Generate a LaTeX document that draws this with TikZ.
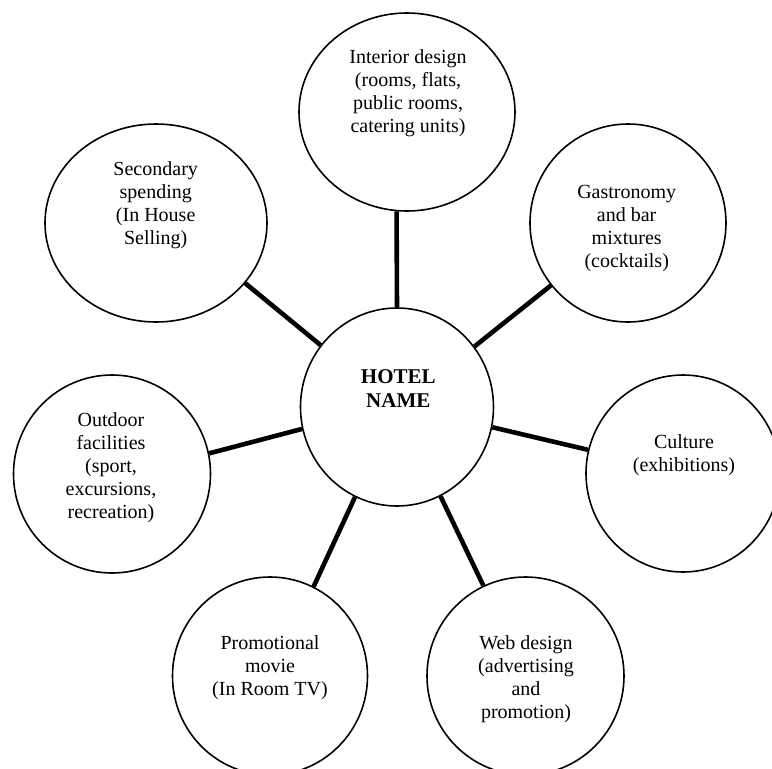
\documentclass[tikz,border=0pt]{standalone}
\usepackage{fontspec}
\setmainfont{Liberation Serif}
\usetikzlibrary{shapes.geometric}
\begin{document}
\begin{tikzpicture}[x=1pt,y=-1pt,
  bubble/.style={ellipse, draw, line width=1.6pt, inner sep=0pt},
  lbl/.style={align=center, inner sep=0pt, font=\fontsize{20}{23}\selectfont},
  boldlbl/.style={align=center, inner sep=0pt, font=\fontsize{21}{24.3}\selectfont\bfseries},
  link/.style={line width=4.6pt}]
\clip (0,0) rectangle (772,769);
% bubbles
\node[bubble, minimum width=216pt, minimum height=198pt] (int) at (407,112) {};
\node[bubble, minimum width=222pt, minimum height=198pt] (sec) at (156,223) {};
\node[bubble, minimum width=196pt, minimum height=198pt] (gas) at (628,223) {};
\node[bubble, minimum width=193pt, minimum height=198pt] (hotel) at (397,407) {};
\node[bubble, minimum width=194pt, minimum height=197pt] (cul) at (683,473.5) {};
\node[bubble, minimum width=197pt, minimum height=198pt] (out) at (112,474) {};
\node[bubble, minimum width=195pt, minimum height=198pt] (pro) at (270,676) {};
\node[bubble, minimum width=197pt, minimum height=198pt] (web) at (525.5,676) {};
% labels
\node[lbl] (tint) at (408,93.5) {\strut Interior design\\(rooms, flats,\\public rooms,\\catering units)\strut};
\node[lbl] (tsec) at (155.7,205.5) {\strut Secondary\\spending\\(In House\\Selling)\strut};
\node[lbl] (tgas) at (626.7,228.3) {\strut Gastronomy\\and bar\\mixtures\\(cocktails)\strut};
\node[boldlbl] (thotel) at (398.3,390.8) {\strut HOTEL\\NAME\strut};
\node[lbl] (tcul) at (684,455.5) {\strut Culture\\(exhibitions)\strut};
\node[lbl] (tout) at (111,468) {\strut Outdoor\\facilities\\(sport,\\excursions,\\recreation)\strut};
\node[lbl] (tpro) at (270,667.8) {\strut Promotional\\movie\\(In Room TV)\strut};
\node[lbl] (tweb) at (526,679.5) {\strut Web design\\(advertising\\and\\promotion)\strut};
% connectors
\draw[link] (hotel.90) -- (int.-96);
\draw[link] (hotel.141) -- (sec.-34);
\draw[link] (hotel.38.5) -- (gas.-141.2);
\draw[link] (hotel.-12.7) -- (cul.166.7);
\draw[link] (hotel.193) -- (out.12.9);
\draw[link] (hotel.245.2) -- (pro.64.7);
\draw[link] (hotel.-64.5) -- (web.115.6);
\end{tikzpicture}
\end{document}
